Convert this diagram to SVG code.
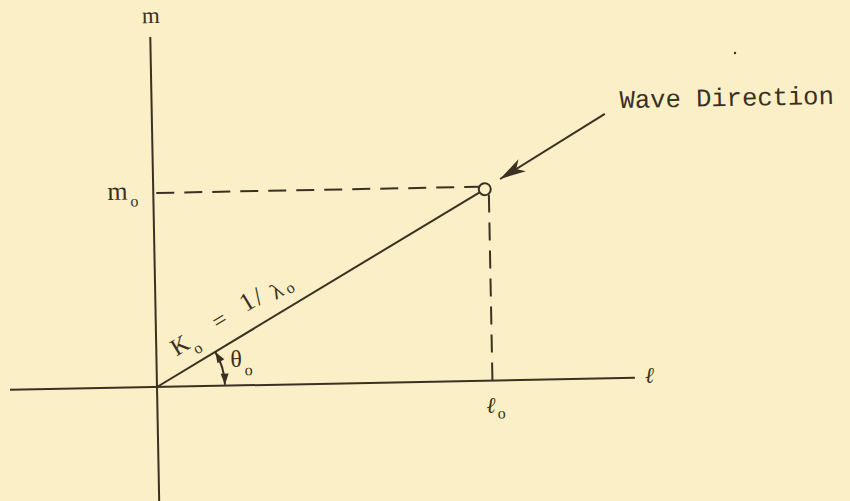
<svg xmlns="http://www.w3.org/2000/svg" width="850" height="501" viewBox="0 0 850 501">
<style>
.ln{stroke:#3a3122;fill:none;stroke-width:2}
.dash{stroke-dasharray:18 10}
.t{fill:#3a3122;font-family:"Liberation Serif","DejaVu Serif",serif}
.tw{fill:#3a3122;font-family:"Liberation Mono","DejaVu Sans Mono",monospace}
</style>
<defs>
<marker id="barb" markerUnits="userSpaceOnUse" viewBox="-28 -10 30 20" refX="0" refY="0" markerWidth="30" markerHeight="20" orient="auto"><path d="M0,0 L-26,-7 L-19,0 L-26,7 Z" fill="#3a3122"/></marker>
<marker id="tri" markerUnits="userSpaceOnUse" viewBox="-12 -5 13 10" refX="0" refY="0" markerWidth="13" markerHeight="10" orient="auto-start-reverse"><path d="M0,0 L-11,-4 L-11,4 Z" fill="#3a3122"/></marker>
</defs>
<rect width="850" height="501" fill="#FAEFC6"/>
<circle cx="735" cy="53" r="1.2" fill="#3a3122"/>
<g transform="rotate(-1.1 157 387)">
  <g id="axes">
    <line class="ln" x1="157" y1="37" x2="157" y2="510"/>
    <line class="ln" x1="10" y1="387" x2="635" y2="387"/>
  </g>
  <g id="connectors">
    <line class="ln dash" x1="160" y1="193" x2="483" y2="193"/>
    <line class="ln dash" x1="492.5" y1="201" x2="492.5" y2="387"/>
    <line class="ln" stroke-width="1.8" x1="157" y1="387" x2="483.3" y2="198.5"/>
    <line class="ln" x1="610" y1="122.6" x2="504" y2="185.6" marker-end="url(#barb)"/>
    <path class="ln" stroke-width="1.6" d="M225,386 A68,68 0 0 0 215.9,353" marker-start="url(#tri)" marker-end="url(#tri)"/>
  </g>
  <g id="point">
    <circle class="ln" cx="488.5" cy="195.5" r="6"/>
  </g>
  <g id="label-m">
    <text class="t" x="158" y="23" font-size="23" text-anchor="middle">m</text>
  </g>
  <g id="label-m0">
    <text class="t" x="111" y="199" font-size="26">m</text>
    <text class="t" x="138" y="206" font-size="16" text-anchor="middle">o</text>
  </g>
  <g id="label-l">
    <text class="t" x="645" y="392" font-size="22" font-style="italic">ℓ</text>
  </g>
  <g id="label-l0">
    <text class="t" x="486" y="419" font-size="22" font-style="italic">ℓ</text>
    <text class="t" x="501" y="425" font-size="16" text-anchor="middle">o</text>
  </g>
  <g id="label-theta">
    <text class="t" x="236.5" y="368.5" font-size="24" text-anchor="middle">θ</text>
    <text class="t" x="249" y="377" font-size="16" text-anchor="middle">o</text>
  </g>
  <g id="label-k" transform="translate(157 387) rotate(-30)">
    <text class="t" font-size="24" text-anchor="middle"><tspan x="41" y="-16">K</tspan><tspan x="55" y="-7" font-size="16">o</tspan><tspan x="88" y="-17">=</tspan><tspan x="121" y="-18" font-size="26">1</tspan><tspan x="133" y="-17" font-size="26">/</tspan><tspan x="152" y="-13" font-size="22">λ</tspan><tspan x="165" y="-11" font-size="16">o</tspan></text>
  </g>
  <g id="label-wave">
    <text class="tw" x="625" y="117" font-size="25.5">Wave Direction</text>
  </g>
</g>
</svg>
